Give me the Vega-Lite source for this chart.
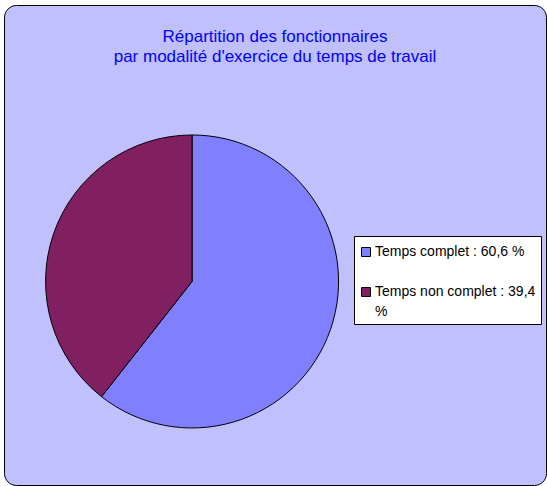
{
  "$schema": "https://vega.github.io/schema/vega-lite/v6.json",
  "width": 547,
  "height": 486,
  "autosize": {"type": "fit", "contains": "padding"},
  "padding": {"left": 4, "top": 5, "right": 1, "bottom": 1},
  "background": "white",
  "title": {
    "text": ["Répartition des fonctionnaires", "par modalité d'exercice du temps de travail"],
    "anchor": "middle",
    "frame": "group",
    "offset": -61,
    "font": "Liberation Sans",
    "fontSize": 17,
    "fontWeight": "normal",
    "color": "#0000FF",
    "lineHeight": 20
  },
  "data": {
    "values": [
      {"categorie": "Temps complet : 60,6 %", "part": 60.6},
      {"categorie": "Temps non complet : 39,4 %", "part": 39.4}
    ]
  },
  "mark": {"type": "arc", "outerRadius": 146.5, "stroke": "black", "strokeWidth": 1},
  "encoding": {
    "theta": {"field": "part", "type": "quantitative", "stack": true},
    "x": {"datum": 0.347, "type": "quantitative", "scale": {"domain": [0, 1]}, "axis": null},
    "y": {"datum": 0.576, "type": "quantitative", "scale": {"domain": [0, 1], "reverse": true}, "axis": null},
    "color": {
      "field": "categorie",
      "type": "nominal",
      "scale": {
        "domain": ["Temps complet : 60,6 %", "Temps non complet : 39,4 %"],
        "range": ["#8080FF", "#802060"]
      },
      "legend": {
        "title": " ",
        "titleFontSize": 2,
        "titlePadding": 2,
        "orient": "none",
        "legendX": 350,
        "legendY": 231,
        "fillColor": "white",
        "strokeColor": "black",
        "padding": 5,
        "symbolType": "square",
        "symbolSize": 81,
        "symbolStrokeColor": "black",
        "symbolStrokeWidth": 1,
        "symbolOpacity": 1,
        "labelFont": "Arial",
        "labelFontSize": 14,
        "labelColor": "black",
        "labelOffset": 2,
        "labelLimit": 0,
        "rowPadding": 26,
        "labelExpr": "datum.value === 'Temps non complet : 39,4 %' ? ['Temps non complet : 39,4', '%'] : datum.label",
        "encode": {
          "labels": {
            "update": {
              "lineHeight": {"value": 20}
            }
          }
        }
      }
    }
  },
  "config": {
    "view": {"fill": "#C0C0FF", "stroke": "black", "strokeWidth": 1, "cornerRadius": 12}
  }
}
